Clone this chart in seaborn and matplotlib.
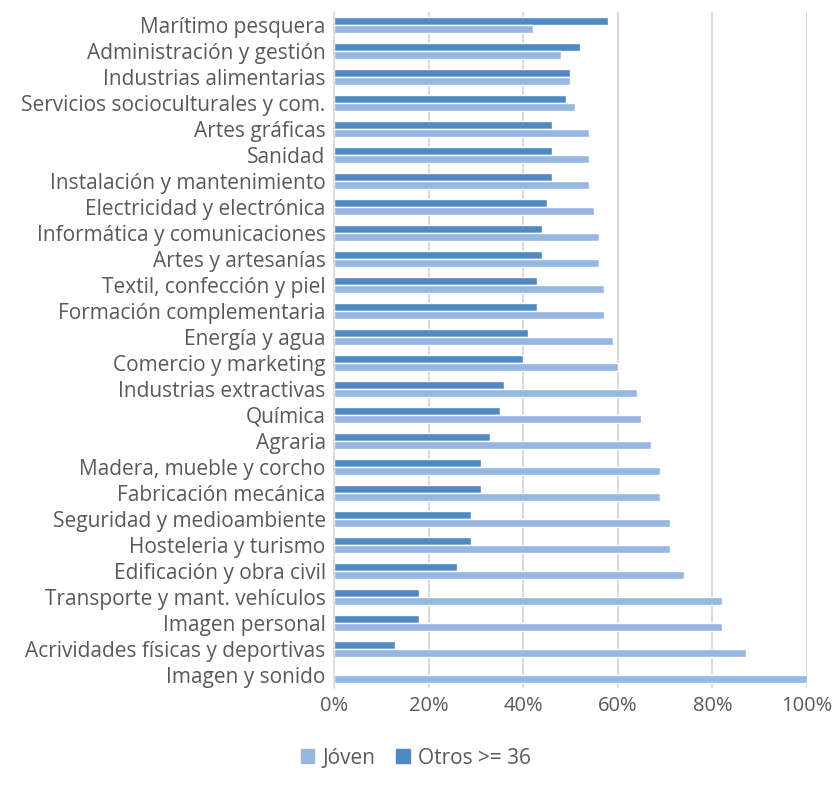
import numpy as np
import pandas as pd
import seaborn as sns
import matplotlib.pyplot as plt
from matplotlib.patches import Patch

categories = [
    "Marítimo pesquera", "Administración y gestión", "Industrias alimentarias",
    "Servicios socioculturales y com.", "Artes gráficas", "Sanidad",
    "Instalación y mantenimiento", "Electricidad y electrónica",
    "Informática y comunicaciones", "Artes y artesanías",
    "Textil, confección y piel", "Formación complementaria", "Energía y agua",
    "Comercio y marketing", "Industrias extractivas", "Química", "Agraria",
    "Madera, mueble y corcho", "Fabricación mecánica",
    "Seguridad y medioambiente", "Hosteleria y turismo",
    "Edificación y obra civil", "Transporte y mant. vehículos",
    "Imagen personal", "Acrividades físicas y deportivas", "Imagen y sonido",
]
joven = [42, 48, 50, 51, 54, 54, 54, 55, 56, 56, 57, 57, 59, 60, 64, 65, 67,
         69, 69, 71, 71, 74, 82, 82, 87, 100]
otros = [58, 52, 50, 49, 46, 46, 46, 45, 44, 44, 43, 43, 41, 40, 36, 35, 33,
         31, 31, 29, 29, 26, 18, 18, 13, 0]

c_joven = "#96B8E0"
c_otros = "#4F89C1"
grey = "#595959"

df = pd.DataFrame({
    "cat": categories * 2,
    "val": otros + joven,
    "serie": ["Otros >= 36"] * len(categories) + ["Jóven"] * len(categories),
})

sns.set_style("white")
plt.rcParams['font.family'] = ['Open Sans', 'DejaVu Sans']

fig = plt.figure(figsize=(8.37, 7.97), dpi=100)
ax = fig.add_axes([334 / 837, 1 - 688 / 797, 473 / 837, 676 / 797])

sns.barplot(data=df, y="cat", x="val", hue="serie", orient="h",
            order=categories, hue_order=["Otros >= 36", "Jóven"],
            palette=[c_otros, c_joven], width=0.58, ax=ax, legend=False,
            saturation=1)

ax.set_xlim(0, 100)
ax.set_ylim(len(categories) - 0.5, -0.5)
ax.set_xticks(np.arange(0, 101, 20))
ax.set_xticklabels([f"{t}%" for t in range(0, 101, 20)])
ax.xaxis.grid(True, color="#D9D9D9", linewidth=1.5)
ax.set_axisbelow(True)
for s in ["top", "right", "bottom"]:
    ax.spines[s].set_visible(False)
ax.spines["left"].set_color("#D9D9D9")
ax.spines["left"].set_linewidth(1.2)
ax.tick_params(axis="y", length=0, labelsize=15, labelcolor=grey, pad=6)
ax.tick_params(axis="x", length=0, labelsize=14.5, labelcolor=grey, pad=6)
for lbl in ax.get_yticklabels():
    lbl.set_va("center_baseline")
ax.set_xlabel("")
ax.set_ylabel("")

handles = [Patch(color=c_joven, label="Jóven"), Patch(color=c_otros, label="Otros >= 36")]
fig.legend(handles=handles, loc="center", bbox_to_anchor=(416 / 837, 1 - 758 / 797),
           ncol=2, frameon=False, fontsize=15, labelcolor=grey,
           handlelength=0.65, handleheight=0.65, handletextpad=0.4, columnspacing=1.0)

fig.savefig("out.png", dpi=100)
